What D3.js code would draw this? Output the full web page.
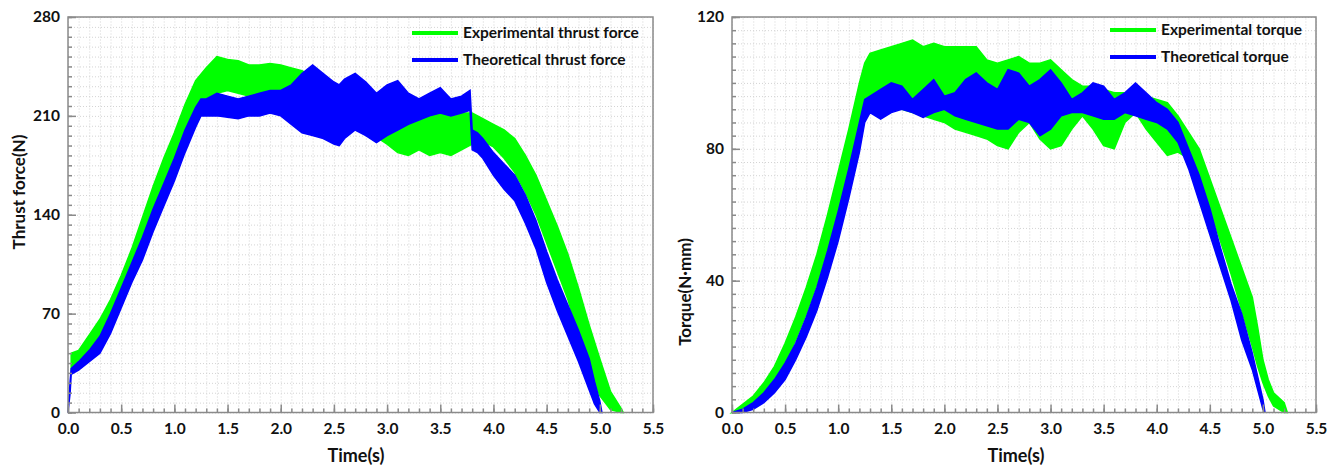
<!DOCTYPE html>
<html lang="en">
<head>
<meta charset="UTF-8">
<title>Thrust force and torque</title>
<script src="https://cdn.jsdelivr.net/npm/d3@7"></script>
<style>
  body { margin: 0; background: #fff; }
  svg text { font-family: Lato, "Open Sans", "DejaVu Sans", sans-serif; font-weight: bold; fill: #111; }
  .grid line { stroke: #d4d4d4; stroke-dasharray: 1,2; }
  .grid path { display: none; }
  .axis path, .axis line { stroke: #8a8a8a; stroke-width: 1.5; }
</style>
</head>
<body>
<svg width="1340" height="469"></svg>
<script>
// ---- data (band envelopes: top / bottom of the oscillation) ----
// left: thrust force (N)
var expThrustT  = [0.03,0.1,0.2,0.3,0.4,0.5,0.6,0.7,0.8,0.9,1.0,1.1,1.2,1.3,1.4,1.5,1.6,1.7,1.8,1.9,2.0,2.1,2.2,2.3,2.4,2.5,2.6,2.7,2.8,2.9,3.0,3.1,3.2,3.3,3.4,3.5,3.6,3.7,3.8,3.9,4.0,4.1,4.2,4.3,4.4,4.5,4.6,4.7,4.8,4.9,5.0,5.1,5.2,5.22];
var expThrustHi = [42,44,55,66,80,97,116,138,160,180,198,218,235,244,252,250,249,246,246,247,246,244,242,238,236,232,228,232,226,222,218,214,212,214,212,214,214,212,212,208,204,200,194,182,168,150,132,112,88,62,38,15,3,0];
var expThrustLo = [30,34,43,52,66,82,100,120,142,162,180,198,214,222,226,228,226,224,222,220,214,210,206,204,200,198,200,200,198,195,190,184,182,186,182,184,182,186,190,192,188,180,170,156,140,120,100,80,55,32,12,2,0,0];

var theoThrustT  = [0,0.02,0.03,0.1,0.2,0.3,0.4,0.5,0.6,0.7,0.8,0.9,1.0,1.1,1.2,1.25,1.3,1.4,1.5,1.6,1.7,1.8,1.9,2.0,2.1,2.2,2.3,2.4,2.5,2.55,2.6,2.7,2.8,2.9,3.0,3.1,3.2,3.3,3.4,3.5,3.6,3.7,3.78,3.8,3.85,3.9,4.0,4.1,4.2,4.3,4.4,4.5,4.6,4.7,4.8,4.9,4.95,5.0,5.02];
var theoThrustHi = [0,22,31,36,44,54,70,88,106,124,144,162,180,200,216,222,222,226,224,222,224,226,228,228,232,240,246,240,234,232,236,240,234,226,232,235,226,222,226,230,222,224,228,200,198,194,184,176,168,154,136,114,94,76,58,38,22,8,0];
var theoThrustLo = [0,14,27,30,36,42,56,74,92,108,128,146,164,184,202,210,210,210,209,208,210,210,212,210,204,198,196,194,190,189,194,200,196,191,196,200,204,207,210,212,210,212,214,186,184,180,168,158,150,134,116,92,72,54,36,16,6,0,0];

// right: torque (N·mm)
var expTorqueT  = [0,0.1,0.2,0.3,0.4,0.5,0.6,0.7,0.8,0.9,1.0,1.1,1.2,1.25,1.3,1.4,1.5,1.6,1.7,1.8,1.9,2.0,2.1,2.2,2.3,2.4,2.5,2.6,2.7,2.8,2.9,3.0,3.1,3.2,3.3,3.4,3.5,3.6,3.7,3.8,3.9,4.0,4.1,4.2,4.3,4.4,4.5,4.6,4.7,4.8,4.9,4.95,5.0,5.05,5.1,5.2,5.23];
var expTorqueHi = [0,2.5,5,9,14,21,29,38,48,60,73,86,100,106,109,110,111,112,113,111,112,111,111,111,111,107,106,107,108,106,106,107,104,101,99,99,98,97,97,97,96,95,94,90,85,80,71,62,53,44,35,26,16,10,6,3,0];
var expTorqueLo = [0,0.5,2,5,9,15,22,30,39,50,62,74,86,90,91,91,92,92,91,90,89,88,86,85,84,83,81,80,85,88,83,80,81,86,90,86,81,80,88,91,86,82,78,79,77,71,62,52,42,31,20,14,9,5,2,0,0];

var theoTorqueT  = [0,0.1,0.2,0.3,0.4,0.5,0.6,0.7,0.8,0.9,1.0,1.1,1.2,1.25,1.3,1.4,1.5,1.6,1.7,1.8,1.9,2.0,2.1,2.2,2.3,2.4,2.5,2.6,2.7,2.8,2.9,3.0,3.1,3.2,3.3,3.4,3.5,3.6,3.7,3.8,3.9,4.0,4.1,4.2,4.3,4.4,4.5,4.6,4.7,4.8,4.9,5.0,5.02];
var theoTorqueHi = [0,1,3,6,10,15,21,29,38,49,61,74,88,95,96,98,100,99,95,98,101,96,97,101,103,100,98,104,103,99,101,104,100,95,97,100,99,95,97,100,97,94,92,88,80,72,62,50,39,30,18,4,0];
var theoTorqueLo = [0,0,1,3,6,10,16,23,31,41,52,65,79,88,91,89,91,92,91,89.5,91,92,90,89,88,87,86,86,89,88,84,86,90,91,91,90,89,89,91,90,89,88,86,82,74,64,54,44,34,22,13,1,0];

var xTicks = [0, 0.5, 1.0, 1.5, 2.0, 2.5, 3.0, 3.5, 4.0, 4.5, 5.0, 5.5];
var thrustTicks = [0, 70, 140, 210, 280];
var torqueTicks = [0, 40, 80, 120];

var green = "#00ff00", blue = "#0000ff";

function band(t, hi, lo) {
  return t.map(function (d, i) { return { t: d, hi: hi[i], lo: lo[i] }; });
}

var panels = [
  {
    left: 68, right: 653, top: 17, bottom: 412.5,
    ymax: 280, yTicks: thrustTicks, yMinor: 7,
    ylabel: "Thrust force(N)", ylabelX: 25, ylabelY: 192, xlabelX: 356,
    legX: 412, legY: 33,
    series: [
      { name: "Experimental thrust force", color: green, data: band(expThrustT, expThrustHi, expThrustLo) },
      { name: "Theoretical thrust force", color: blue, data: band(theoThrustT, theoThrustHi, theoThrustLo) }
    ]
  },
  {
    left: 732, right: 1316, top: 17, bottom: 412.5,
    ymax: 120, yTicks: torqueTicks, yMinor: 4,
    ylabel: "Torque(N\u00b7mm)", ylabelX: 691, ylabelY: 292, xlabelX: 1016,
    legX: 1110, legY: 30,
    series: [
      { name: "Experimental torque", color: green, data: band(expTorqueT, expTorqueHi, expTorqueLo) },
      { name: "Theoretical torque", color: blue, data: band(theoTorqueT, theoTorqueHi, theoTorqueLo) }
    ]
  }
];

var svg = d3.select("svg");

panels.forEach(function (p) {
  var w = p.right - p.left, h = p.bottom - p.top;
  var x = d3.scaleLinear().domain([0, 5.5]).range([0, w]);
  var y = d3.scaleLinear().domain([0, p.ymax]).range([h, 0]);
  var g = svg.append("g").attr("transform", "translate(" + p.left + "," + p.top + ")");

  var xMinor = d3.range(0, 5.5001, 0.1);
  var yMinor = d3.range(0, p.ymax + 0.001, p.yMinor);

  // dotted grid
  g.append("g").attr("class", "grid")
    .attr("transform", "translate(0," + h + ")")
    .call(d3.axisBottom(x).tickValues(xMinor).tickSize(-h).tickFormat(""));
  g.append("g").attr("class", "grid")
    .call(d3.axisLeft(y).tickValues(yMinor).tickSize(-w).tickFormat(""));

  // bands
  var area = d3.area()
    .x(function (d) { return x(d.t); })
    .y0(function (d) { return y(d.lo); })
    .y1(function (d) { return y(d.hi); });
  p.series.forEach(function (s) {
    g.append("path")
      .datum(s.data)
      .attr("d", area)
      .attr("fill", s.color)
      .attr("stroke", s.color)
      .attr("stroke-width", 1.5)
      .attr("stroke-linejoin", "miter");
  });

  // frame
  g.append("rect").attr("width", w).attr("height", h)
    .attr("fill", "none").attr("stroke", "#8a8a8a").attr("stroke-width", 1.5);

  // ticks (inward)
  g.append("g").attr("class", "axis")
    .attr("transform", "translate(0," + h + ")")
    .call(d3.axisBottom(x).tickValues(xMinor).tickSize(-4).tickFormat(""))
    .select(".domain").remove();
  var xa = g.append("g").attr("class", "axis")
    .attr("transform", "translate(0," + h + ")")
    .call(d3.axisBottom(x).tickValues(xTicks).tickSize(-8).tickPadding(10).tickFormat(d3.format(".1f")));
  xa.select(".domain").remove();
  xa.selectAll("text").style("font-size", "15.5px");

  g.append("g").attr("class", "axis")
    .call(d3.axisLeft(y).tickValues(yMinor).tickSize(-4).tickFormat(""))
    .select(".domain").remove();
  var ya = g.append("g").attr("class", "axis")
    .call(d3.axisLeft(y).tickValues(p.yTicks).tickSize(-8).tickPadding(8));
  ya.select(".domain").remove();
  ya.selectAll("text").style("font-size", "15.5px");

  // axis titles
  svg.append("text")
    .attr("x", p.xlabelX).attr("y", 462)
    .attr("text-anchor", "middle")
    .style("font-size", "18px")
    .text("Time(s)");
  svg.append("text")
    .attr("transform", "translate(" + p.ylabelX + "," + p.ylabelY + ") rotate(-90)")
    .attr("text-anchor", "middle")
    .style("font-size", "17px")
    .text(p.ylabel);

  // legend
  p.series.forEach(function (s, i) {
    var ly = p.legY + i * 27;
    svg.append("line")
      .attr("x1", p.legX).attr("x2", p.legX + 46)
      .attr("y1", ly).attr("y2", ly)
      .attr("stroke", s.color).attr("stroke-width", 4);
    svg.append("text")
      .attr("x", p.legX + 51).attr("y", ly + 5)
      .style("font-size", "15.5px")
      .text(s.name);
  });
});
</script>
</body>
</html>
